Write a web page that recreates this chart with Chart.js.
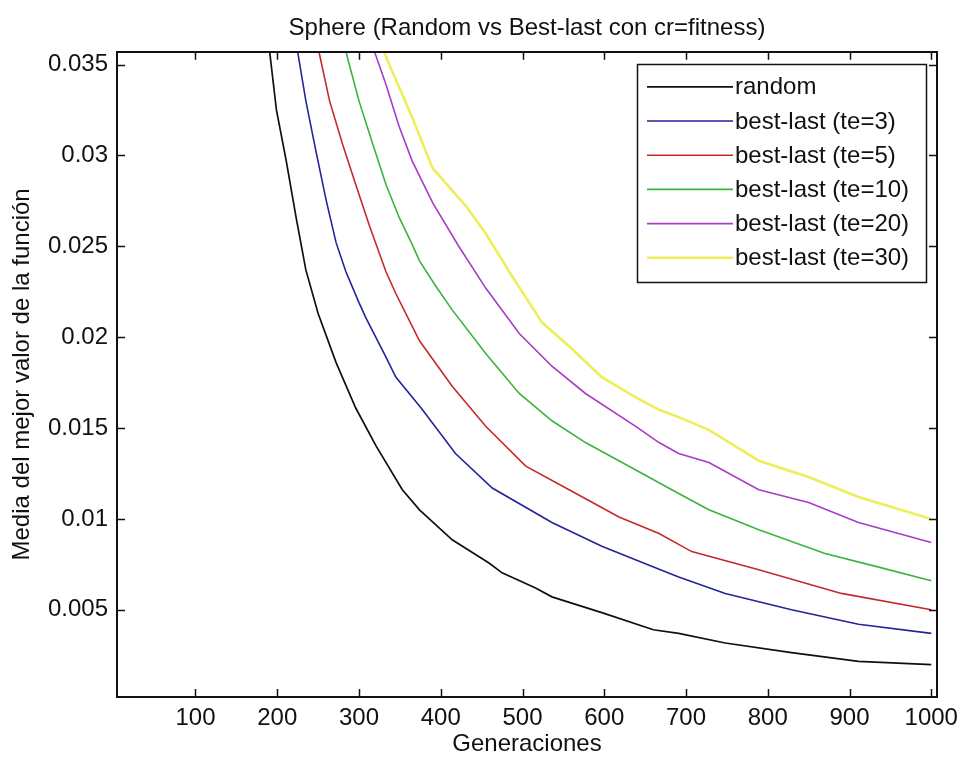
<!DOCTYPE html>
<html>
<head>
<meta charset="utf-8">
<title>Sphere (Random vs Best-last con cr=fitness)</title>
<script src="https://cdn.jsdelivr.net/npm/chart.js@4/dist/chart.umd.min.js"></script>
<style>
  html, body { margin: 0; padding: 0; background: #fff; }
  #wrap { width: 963px; height: 763px; }
</style>
</head>
<body>
<div id="wrap"><canvas id="c" width="963" height="763"></canvas></div>
<script>
// Mean best fitness per generation, Sphere function
const seriesLabels = ['random', 'best-last (te=3)', 'best-last (te=5)', 'best-last (te=10)', 'best-last (te=20)', 'best-last (te=30)'];

const randomGen = [189, 191, 199, 211, 223, 235, 250, 272, 296, 321, 353, 374, 414, 459, 475, 516, 536, 597, 660, 691, 748, 829, 911, 1000];
const randomVal = [0.0369, 0.0356, 0.0325, 0.0297, 0.0266, 0.0237, 0.0213, 0.0186, 0.0161, 0.0140, 0.0116, 0.0105, 0.00885, 0.00757, 0.00703, 0.0062, 0.00571, 0.00484, 0.0039, 0.0037, 0.00317, 0.00264, 0.00216, 0.00198];

const te3Gen = [220, 225, 235, 247, 260, 272, 284, 300, 308, 333, 345, 376, 418, 463, 536, 597, 658, 691, 748, 829, 911, 1000];
const te3Val = [0.0369, 0.0357, 0.0330, 0.0303, 0.0275, 0.0252, 0.0236, 0.0219, 0.0211, 0.0189, 0.0178, 0.0161, 0.0136, 0.0117, 0.0098, 0.0085, 0.0074, 0.0068, 0.0059, 0.0050, 0.0042, 0.0037];

const te5Gen = [245, 251, 264, 280, 296, 313, 333, 345, 374, 414, 455, 504, 557, 618, 667, 691, 707, 789, 890, 1000];
const te5Val = [0.0369, 0.0357, 0.0330, 0.0306, 0.0284, 0.0261, 0.0236, 0.0224, 0.0198, 0.0173, 0.0151, 0.0129, 0.0116, 0.0101, 0.0092, 0.0086, 0.0082, 0.0072, 0.0059, 0.0050];

const te10Gen = [277, 284, 300, 317, 333, 349, 365, 374, 394, 414, 455, 496, 536, 577, 638, 691, 728, 789, 870, 931, 1000];
const te10Val = [0.0369, 0.0357, 0.0330, 0.0306, 0.0284, 0.0266, 0.0251, 0.0242, 0.0228, 0.0215, 0.0191, 0.0169, 0.0154, 0.0142, 0.0127, 0.0114, 0.0105, 0.0094, 0.0081, 0.0074, 0.0066];

const te20Gen = [309, 319, 333, 349, 365, 390, 422, 455, 496, 536, 577, 638, 667, 691, 728, 789, 850, 911, 1000];
const te20Val = [0.0369, 0.0357, 0.0339, 0.0316, 0.0297, 0.0274, 0.0250, 0.0227, 0.0202, 0.0184, 0.0169, 0.0151, 0.0142, 0.0136, 0.0131, 0.0116, 0.0109, 0.0098, 0.0087];

const te30Gen = [320, 337, 365, 390, 431, 455, 488, 524, 557, 597, 638, 667, 691, 728, 789, 850, 911, 1000];
const te30Val = [0.0369, 0.0350, 0.0321, 0.0293, 0.0272, 0.0257, 0.0233, 0.0208, 0.0195, 0.0178, 0.0167, 0.0160, 0.0156, 0.0149, 0.0132, 0.0123, 0.0112, 0.0100];

const xTicks = [100, 200, 300, 400, 500, 600, 700, 800, 900, 1000];
const yTicks = [0.005, 0.01, 0.015, 0.02, 0.025, 0.03, 0.035];
const yTickLabels = ['0.005', '0.01', '0.015', '0.02', '0.025', '0.03', '0.035'];

const FONT = "'Liberation Sans', Arial, Helvetica, sans-serif";
const FS = 24;

function pts(gens, vals) {
  return gens.map((g, i) => ({ x: g, y: vals[i] }));
}

function series(label, gens, vals, color, width) {
  return {
    label: label,
    data: pts(gens, vals),
    borderColor: color,
    backgroundColor: color,
    borderWidth: width,
    pointRadius: 0,
    tension: 0,
    fill: false,
    clip: 0
  };
}

// Axes box with inward tick marks and an in-plot legend
const boxPlugin = {
  id: 'boxPlugin',
  afterDatasetsDraw(chart) {
    const { ctx, chartArea: a, scales } = chart;
    ctx.save();
    ctx.strokeStyle = '#111';
    ctx.lineWidth = 1.5;
    const tl = 8;
    ctx.beginPath();
    scales.x.ticks.forEach(t => {
      const px = Math.round(scales.x.getPixelForValue(t.value)) + 0.5;
      ctx.moveTo(px, a.bottom); ctx.lineTo(px, a.bottom - tl);
      ctx.moveTo(px, a.top); ctx.lineTo(px, a.top + tl);
    });
    scales.y.ticks.forEach(t => {
      const py = Math.round(scales.y.getPixelForValue(t.value)) + 0.5;
      ctx.moveTo(a.left, py); ctx.lineTo(a.left + tl, py);
      ctx.moveTo(a.right, py); ctx.lineTo(a.right - tl, py);
    });
    ctx.stroke();
    ctx.lineWidth = 2;
    ctx.strokeRect(Math.round(a.left), Math.round(a.top), Math.round(a.right - a.left), Math.round(a.bottom - a.top));

    // legend
    const lw = 289, lh = 218;
    const lx = a.right - 11 - lw, ly = a.top + 12;
    ctx.fillStyle = '#fff';
    ctx.fillRect(lx, ly, lw, lh);
    ctx.lineWidth = 1.5;
    ctx.strokeStyle = '#111';
    ctx.strokeRect(Math.round(lx) + 0.5, Math.round(ly) + 0.5, lw, lh);
    ctx.font = FS + 'px ' + FONT;
    ctx.textBaseline = 'middle';
    ctx.textAlign = 'left';
    chart.data.datasets.forEach((ds, i) => {
      const y = ly + 23 + i * 34.2;
      ctx.strokeStyle = ds.borderColor;
      ctx.lineWidth = ds.borderWidth;
      ctx.beginPath();
      ctx.moveTo(lx + 10, y); ctx.lineTo(lx + 96, y);
      ctx.stroke();
      ctx.fillStyle = '#111';
      ctx.fillText(ds.label, lx + 98, y + 1);
    });
    ctx.restore();
  }
};

new Chart(document.getElementById('c'), {
  type: 'line',
  data: {
    datasets: [
      series(seriesLabels[0], randomGen, randomVal, '#101010', 1.7),
      series(seriesLabels[1], te3Gen, te3Val, '#23239a', 1.6),
      series(seriesLabels[2], te5Gen, te5Val, '#c42a2a', 1.6),
      series(seriesLabels[3], te10Gen, te10Val, '#3cb43c', 1.6),
      series(seriesLabels[4], te20Gen, te20Val, '#a83cc4', 1.6),
      series(seriesLabels[5], te30Gen, te30Val, '#eeee58', 2.6)
    ]
  },
  options: {
    responsive: false,
    animation: false,
    devicePixelRatio: 1,
    layout: { padding: { left: 8, right: 26, top: 0, bottom: 4 } },
    plugins: {
      legend: { display: false },
      tooltip: { enabled: false },
      title: {
        display: true,
        text: 'Sphere (Random vs Best-last con cr=fitness)',
        fullSize: false,
        color: '#111',
        font: { family: FONT, size: FS, weight: 'normal' },
        padding: { top: 14, bottom: 9 }
      }
    },
    scales: {
      x: {
        type: 'linear',
        min: 4,
        max: 1007,
        grid: { display: false, drawTicks: false },
        border: { display: false },
        afterBuildTicks(scale) { scale.ticks = xTicks.map(v => ({ value: v })); },
        afterFit(scale) { scale.height = 62; scale.paddingLeft = 0; scale.paddingRight = 0; },
        ticks: {
          color: '#111',
          font: { family: FONT, size: FS },
          padding: 7,
          maxRotation: 0,
          autoSkip: false,
          callback: v => String(v)
        },
        title: {
          display: true,
          text: 'Generaciones',
          color: '#111',
          font: { family: FONT, size: FS },
          padding: { top: 2, bottom: 0 }
        }
      },
      y: {
        type: 'linear',
        min: 0.0002,
        max: 0.0357,
        grid: { display: false, drawTicks: false },
        border: { display: false },
        afterBuildTicks(scale) { scale.ticks = yTicks.map(v => ({ value: v })); },
        afterFit(scale) { scale.width = 109; scale.paddingTop = 0; scale.paddingBottom = 0; },
        ticks: {
          color: '#111',
          font: { family: FONT, size: FS },
          padding: 9,
          autoSkip: false,
          callback: (v, i) => yTickLabels[i]
        },
        title: {
          display: true,
          text: 'Media del mejor valor de la función',
          color: '#111',
          font: { family: FONT, size: FS },
          padding: { top: 0, bottom: 0 }
        }
      }
    }
  },
  plugins: [boxPlugin]
});
</script>
</body>
</html>
